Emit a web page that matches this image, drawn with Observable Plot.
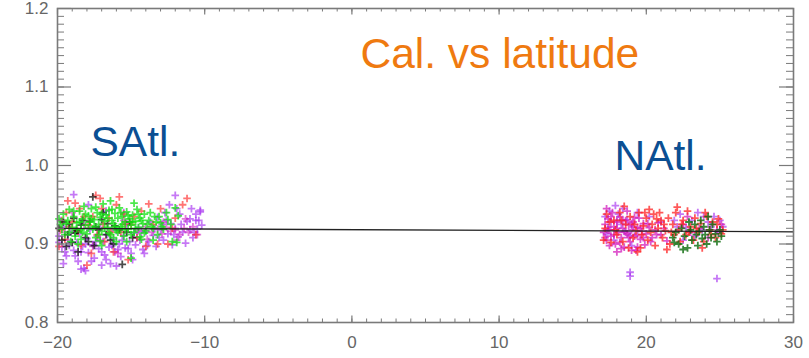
<!DOCTYPE html>
<html>
<head>
<meta charset="utf-8">
<script src="https://cdn.jsdelivr.net/npm/d3@7"></script>
<script src="https://cdn.jsdelivr.net/npm/@observablehq/plot@0.6"></script>
<style>
  html, body { margin: 0; padding: 0; background: #fff; }
  #chart { width: 809px; height: 358px; overflow: hidden; }
</style>
</head>
<body>
<div id="chart"></div>
<script>
// ---- Axis ticks / labels ----
const xMajor = [-20, -10, 0, 10, 20, 30];
const xMinor = d3.range(-20, 31, 1);
const yMajor = [0.8, 0.9, 1.0, 1.1, 1.2];
const yMinor = d3.range(80, 121, 1).map(v => v / 100);

// ---- Regression line ----
const fitX = [-20, 30];
const fitY = [0.920, 0.9155];

// ---- Text labels ----
const titleText = "Cal. vs latitude";
const southLabel = "SAtl.";
const northLabel = "NAtl.";

// ---- Scatter series: [latitude, calibration] ----
const sGreen = [[-19.8,.925],[-19.6,.938],[-19.5,.912],[-19.3,.930],[-19.2,.944],[-19.0,.921],[-18.9,.935],[-18.8,.910],[-18.7,.927],[-18.5,.942],[-18.4,.918],[-18.3,.932],[-18.2,.948],[-18.1,.924],[-18.0,.913],[-17.9,.936],[-17.8,.928],[-17.7,.945],[-17.6,.919],[-17.5,.931],[-17.4,.908],[-17.3,.940],[-17.2,.925],[-17.1,.934],[-17.0,.916],[-16.9,.951],[-16.8,.929],[-16.7,.937],[-16.6,.921],[-16.5,.943],[-16.4,.912],[-16.3,.930],[-16.2,.926],[-16.1,.939],[-16.0,.918],[-15.9,.933],[-15.8,.946],[-15.7,.922],[-15.6,.935],[-15.5,.910],[-15.4,.928],[-15.3,.941],[-15.2,.919],[-15.1,.932],[-15.0,.924],[-14.9,.937],[-14.8,.915],[-14.7,.929],[-14.6,.944],[-14.5,.921],[-14.4,.933],[-14.3,.906],[-14.2,.926],[-14.1,.938],[-14.0,.917],[-13.8,.930],[-13.6,.922],[-13.4,.935],[-13.2,.912],[-13.0,.927],[-12.8,.919],[-12.5,.931],[-12.2,.903],[-12.0,.946],[-11.9,.902],[-18.6,.900],[-17.0,.898],[-15.0,.882],[-16.0,.903],[-19.1,.903],[-14.8,.952],[-16.4,.955],[-13.5,.905],
  [-19.9,.932],[-19.7,.919],[-19.4,.926],[-19.2,.915],[-18.9,.942],[-18.7,.919],[-18.5,.928],[-18.3,.915],[-18.1,.938],[-17.9,.920],[-17.7,.932],[-17.5,.922],[-17.4,.947],[-17.2,.912],[-17.0,.938],[-16.8,.920],[-16.6,.933],[-16.5,.914],[-16.3,.944],[-16.1,.922],[-15.9,.915],[-15.7,.940],[-15.6,.925],[-15.4,.918],[-15.2,.936],[-15.0,.912],[-14.9,.928],[-14.7,.920],[-14.5,.938],[-14.3,.930],[-14.1,.914],[-13.9,.925],[-13.7,.940],[-13.5,.920],[-13.3,.928],[-13.1,.935],[-12.9,.922],[-12.6,.940],[-12.3,.925],[-11.8,.936],[-17.1,.904],[-16.2,.908],[-18.4,.906],[-15.3,.903],[-14.4,.909]];
const sPurple = [[-19.9,.910],[-19.7,.896],[-19.6,.922],[-19.4,.885],[-19.3,.905],[-19.1,.915],[-18.9,.963],[-18.9,.892],[-18.7,.902],[-18.6,.878],[-18.5,.913],[-18.3,.897],[-18.2,.869],[-18.0,.907],[-17.9,.889],[-17.8,.918],[-17.6,.899],[-17.5,.882],[-17.3,.910],[-17.2,.894],[-17.1,.921],[-16.9,.903],[-16.8,.886],[-16.6,.912],[-16.5,.896],[-16.4,.875],[-16.2,.906],[-16.1,.890],[-16.0,.917],[-15.8,.900],[-15.7,.884],[-15.5,.911],[-15.4,.895],[-15.3,.925],[-15.1,.903],[-15.0,.888],[-14.8,.914],[-14.7,.899],[-14.5,.921],[-14.4,.905],[-14.2,.893],[-14.0,.916],[-13.8,.903],[-13.7,.928],[-13.5,.911],[-13.3,.897],[-13.2,.934],[-13.0,.918],[-12.8,.905],[-12.7,.940],[-12.5,.913],[-12.3,.926],[-12.2,.899],[-12.0,.920],[-11.8,.909],[-11.7,.938],[-11.5,.915],[-11.3,.901],[-11.2,.929],[-11.0,.918],[-10.9,.945],[-10.8,.908],[-10.6,.930],[-10.5,.919],[-10.3,.941],[-10.2,.924],[-17.9,.950],[-16.7,.942],[-19.8,.930],[-18.1,.866],[-17.0,.873],[-12.0,.962],[-10.3,.943],
  [-19.9,.902],[-19.5,.890],[-19.2,.898],[-18.8,.885],[-18.4,.890],[-18.1,.900],[-17.7,.878],[-17.4,.903],[-17.0,.890],[-16.7,.880],[-16.3,.898],[-15.9,.893],[-15.6,.905],[-15.2,.894],[-14.9,.880],[-14.6,.908],[-14.3,.915],[-13.9,.898],[-13.4,.920],[-12.9,.925],[-12.6,.930],[-12.1,.912],[-11.6,.925],[-11.0,.932],[-10.7,.915],[-10.4,.930],[-19.6,.875],[-18.4,.868],[-16.0,.872],[-14.1,.888],[-13.1,.908],[-11.9,.945],[-10.6,.938],[-12.4,.950],[-15.5,.940]];
const sRed = [[-19.8,.918],[-19.5,.906],[-19.4,.940],[-19.0,.928],[-18.8,.952],[-18.6,.916],[-18.4,.899],[-18.2,.935],[-17.9,.924],[-17.4,.962],[-17.3,.912],[-17.0,.945],[-16.8,.903],[-16.5,.933],[-16.2,.890],[-16.0,.950],[-15.7,.915],[-15.5,.938],[-15.2,.880],[-15.0,.925],[-14.6,.908],[-14.3,.942],[-14.0,.897],[-13.5,.925],[-13.0,.945],[-12.5,.900],[-12.0,.933],[-11.5,.950],[-11.2,.958],[-10.6,.912],[-19.9,.897],[-18.0,.873],[-17.7,.888],[-13.8,.951],[-15.8,.960],
  [-19.7,.930],[-19.2,.922],[-18.5,.945],[-17.6,.935],[-16.9,.925],[-16.4,.915],[-15.4,.925],[-14.8,.935],[-13.2,.900],[-12.2,.920],[-19.3,.955],[-17.1,.958]];
const sMagenta = [[-14.5,.917],[-14.0,.922],[-13.6,.915],[-13.2,.919],[-12.9,.913],[-12.6,.921],[-12.3,.916],[-12.0,.918],[-11.7,.912],[-11.4,.920],[-11.1,.915],[-10.8,.922],[-10.5,.912],[-13.9,.906],[-12.8,.928],[-11.9,.905],[-11.3,.932],[-19.5,.915],[-18.2,.925],[-17.1,.905],[-16.3,.920],[-15.5,.930],[-19.0,.940],[-17.6,.897],[-15.9,.888]];
const sBlack = [[-19.9,.920],[-19.6,.928],[-19.3,.912],[-19.0,.902],[-18.9,.933],[-18.7,.917],[-18.4,.924],[-18.1,.908],[-17.8,.929],[-17.6,.960],[-17.5,.898],[-17.2,.918],[-17.0,.931],[-16.7,.912],[-16.4,.905],[-16.1,.923],[-15.6,.874],[-15.3,.915],[-14.9,.908],[-18.6,.890],[-19.4,.897],[-16.9,.940],
  [-19.7,.905],[-19.2,.925],[-18.8,.914],[-18.3,.930],[-17.9,.903],[-17.4,.922],[-16.6,.926],[-16.2,.900],[-15.8,.918],[-15.1,.928]];
const nMagenta = [[17.1,.915],[17.2,.925],[17.3,.905],[17.4,.932],[17.5,.918],[17.6,.910],[17.7,.940],[17.8,.922],[17.9,.900],[18.0,.928],[18.1,.915],[18.2,.935],[18.3,.908],[18.4,.920],[18.5,.896],[18.6,.930],[18.7,.913],[18.8,.924],[18.9,.903],[19.0,.918],[19.1,.928],[19.2,.910],[19.3,.892],[19.4,.921],[19.5,.933],[19.6,.906],[19.7,.916],[19.8,.926],[19.9,.899],[20.0,.913],[20.2,.921],[20.4,.908],[20.6,.918],[20.8,.927],[21.0,.912],[21.2,.920],[21.4,.904],[17.5,.898],[18.0,.890],[18.7,.942],[19.4,.896],[22.5,.925],[23.0,.915],[23.6,.920],[24.2,.908],[24.8,.918],[25.1,.925],[22.8,.935],
  [17.2,.908],[17.4,.918],[17.6,.935],[17.8,.912],[18.0,.920],[18.2,.902],[18.4,.930],[18.6,.915],[18.8,.908],[19.0,.926],[19.2,.934],[19.4,.912],[19.6,.920],[19.8,.908],[20.1,.926],[20.3,.903],[20.7,.912],[17.3,.945],[18.3,.894],[19.0,.892]];
const nPurple = [[17.2,.935],[17.4,.921],[17.6,.928],[17.9,.949],[18.1,.938],[18.3,.925],[18.5,.916],[18.7,.931],[18.9,.911],[19.1,.922],[19.4,.940],[20.2,.935],[21.0,.928],[21.9,.930],[22.3,.938],[22.7,.921],[23.1,.930],[23.5,.940],[23.8,.918],[24.2,.928],[24.6,.935],[24.9,.915],[25.2,.922],[22.5,.905],[23.3,.910],[18.9,.864],[18.9,.859],[24.8,.856],[17.8,.905],[19.0,.898],
  [17.5,.942],[18.0,.930],[18.4,.945],[17.3,.913],[22.1,.922],[23.9,.935],[24.4,.922],[25.0,.930]];
const nRed = [[17.1,.905],[17.3,.938],[17.6,.902],[17.8,.930],[18.0,.912],[18.2,.940],[18.4,.903],[18.6,.925],[18.9,.935],[19.1,.908],[19.3,.917],[19.5,.940],[19.6,.895],[19.8,.923],[20.0,.933],[20.1,.905],[20.3,.915],[20.5,.938],[20.6,.898],[20.8,.920],[21.0,.930],[21.1,.908],[21.3,.917],[21.5,.933],[21.6,.900],[21.8,.925],[21.9,.912],[22.0,.940],[22.2,.918],[22.3,.903],[22.5,.930],[22.7,.912],[22.8,.942],[23.0,.922],[23.2,.905],[23.3,.933],[23.5,.915],[23.7,.926],[23.9,.903],[24.1,.935],[24.3,.918],[24.5,.928],[24.7,.908],[24.9,.932],[25.1,.913],[20.2,.944],[19.4,.890],[21.4,.893],[22.1,.947],[18.5,.948],[24.0,.940],[20.9,.940],[23.8,.895],
  [17.2,.920],[17.5,.928],[17.9,.918],[18.3,.930],[18.8,.895],[19.2,.925],[19.7,.912],[20.4,.925],[20.7,.932],[21.2,.925],[21.7,.915],[22.4,.925],[22.9,.915],[23.4,.920],[24.4,.912],[24.8,.925],[25.2,.918],[19.9,.940]];
const nDarkGreen = [[21.8,.908],[22.0,.915],[22.2,.900],[22.4,.920],[22.6,.910],[22.8,.895],[23.0,.918],[23.1,.905],[23.3,.925],[23.4,.912],[23.5,.898],[23.6,.916],[23.8,.907],[23.9,.922],[24.0,.912],[24.1,.900],[24.3,.918],[24.4,.908],[24.5,.925],[24.7,.913],[24.8,.903],[25.0,.918],[25.1,.910],[22.5,.893],[23.7,.930],[24.2,.935],[22.9,.928],[21.9,.902]];

// ---- Styling ----
const axisColor = "#7a7a7a";
const plusSymbol = {
  draw(context, size) {
    const r = Math.sqrt(size / Math.PI);
    context.moveTo(-r, 0); context.lineTo(r, 0);
    context.moveTo(0, -r); context.lineTo(0, r);
  }
};
const plotH = 358 - 8 - 36;
const plotW = 809 - 57 - 16;
const xMinorLen = 3.5, xMajorLen = 6.5, yMinorLen = 7, yMajorLen = 14;

const series = [
  [sPurple, "#a630f0", 0.65],
  [nPurple, "#a630f0", 0.65],
  [nMagenta, "#d010b8", 0.7],
  [sMagenta, "#d020c0", 0.6],
  [sRed, "#ff2a2a", 0.65],
  [nRed, "#ff2020", 0.75],
  [sBlack, "#000000", 0.7],
  [sGreen, "#10e010", 0.75],
  [nDarkGreen, "#0a6a0a", 0.8]
];

const dotMarks = series.map(([data, color, op]) =>
  Plot.dot(data, {x: d => d[0], y: d => d[1], symbol: plusSymbol, r: 3.8,
    fill: "none", stroke: color, strokeWidth: 1.8, strokeOpacity: op})
);

const chart = Plot.plot({
  width: 809,
  height: 358,
  marginLeft: 57,
  marginRight: 16,
  marginTop: 8,
  marginBottom: 36,
  x: {domain: [-20, 30]},
  y: {domain: [0.8, 1.2]},
  style: {fontFamily: "'Liberation Sans', Arial, sans-serif", background: "#fff"},
  marks: [
    ...dotMarks,
    Plot.line(fitX.map((x, i) => [x, fitY[i]]), {x: d => d[0], y: d => d[1], stroke: "#222", strokeWidth: 1.3}),
    // inward ticks (bottom / top)
    Plot.tickX(xMinor, {x: d => d, insetTop: plotH - xMinorLen, stroke: axisColor, strokeWidth: 1}),
    Plot.tickX(xMajor, {x: d => d, insetTop: plotH - xMajorLen, stroke: axisColor, strokeWidth: 1.2}),
    Plot.tickX(xMinor, {x: d => d, insetBottom: plotH - xMinorLen, stroke: axisColor, strokeWidth: 1}),
    Plot.tickX(xMajor, {x: d => d, insetBottom: plotH - xMajorLen, stroke: axisColor, strokeWidth: 1.2}),
    // inward ticks (left / right)
    Plot.tickY(yMinor, {y: d => d, insetRight: plotW - yMinorLen, stroke: axisColor, strokeWidth: 1}),
    Plot.tickY(yMajor, {y: d => d, insetRight: plotW - yMajorLen, stroke: axisColor, strokeWidth: 1.2}),
    Plot.tickY(yMinor, {y: d => d, insetLeft: plotW - yMinorLen, stroke: axisColor, strokeWidth: 1}),
    Plot.tickY(yMajor, {y: d => d, insetLeft: plotW - yMajorLen, stroke: axisColor, strokeWidth: 1.2}),
    Plot.frame({stroke: axisColor, strokeWidth: 1.6}),
    Plot.axisX({ticks: xMajor, tickSize: 0, tickPadding: 13, fontSize: 17, fill: "#666",
      tickFormat: d => d < 0 ? "\u2212" + (-d) : String(d)}),
    Plot.axisY({ticks: yMajor, tickSize: 0, tickPadding: 9, fontSize: 17, fill: "#666",
      tickFormat: d3.format(".1f")}),
    Plot.text([titleText], {x: 0.58, y: 1.1248, text: d => d, textAnchor: "start", lineAnchor: "bottom",
      fontSize: 42.5, fill: "#ef7a10"}),
    Plot.text([southLabel], {x: -17.76, y: 1.0127, text: d => d, textAnchor: "start", lineAnchor: "bottom",
      fontSize: 42.5, fill: "#0b4f93"}),
    Plot.text([northLabel], {x: 17.84, y: 0.9949, text: d => d, textAnchor: "start", lineAnchor: "bottom",
      fontSize: 42.5, fill: "#0b4f93"})
  ]
});
document.getElementById("chart").appendChild(chart);
</script>
</body>
</html>
